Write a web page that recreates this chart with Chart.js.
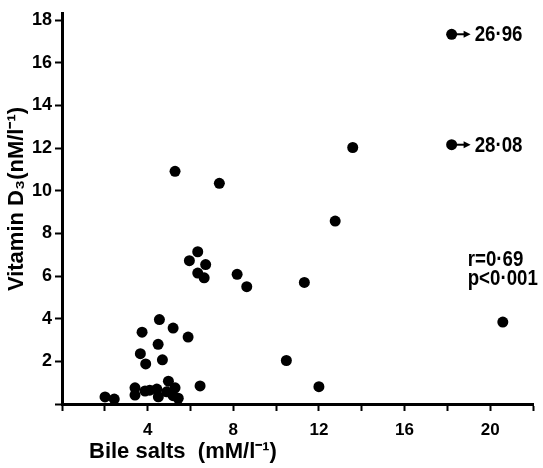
<!DOCTYPE html>
<html>
<head>
<meta charset="utf-8">
<script src="https://cdn.jsdelivr.net/npm/chart.js@4.4.1/dist/chart.umd.min.js"></script>
<style>
  html, body { margin: 0; padding: 0; background: #fff; }
  #wrap { width: 543px; height: 468px; }
</style>
</head>
<body>
<div id="wrap"><canvas id="grafico" width="543" height="468"></canvas></div>
<script>
// bile salts (mM/l-1) vs vitamin D3 (nM/l-1)
const bileSalts = [
  5.28, 7.35, 13.58, 12.76, 6.34, 5.95, 6.71, 6.34, 6.64, 8.18, 8.63, 11.32,
  4.55, 5.19, 5.89, 4.49, 3.74, 3.66, 3.91, 4.69, 10.48, 6.45, 12.0,
  2.01, 2.44, 3.41, 3.41, 3.88, 4.43, 4.5, 4.97, 4.89, 5.28, 5.43, 5.19, 4.1,
  20.59
];
const vitaminD3 = [
  10.91, 10.35, 12.03, 8.58, 7.14, 6.72, 6.54, 6.14, 5.92, 6.08, 5.5, 5.7,
  3.96, 3.56, 3.14, 2.8, 3.37, 2.36, 1.88, 2.07, 2.04, 0.85, 0.81,
  0.33, 0.23, 0.76, 0.42, 0.61, 0.7, 0.34, 1.07, 0.57, 0.76, 0.27, 0.39, 0.65,
  3.84
];
// off-scale points, drawn at the break of the x axis with their real value
const fueraEscalaX = [26.96, 28.08];
const fueraEscalaY = [17.34, 12.16];
const posicionCorte = 18.2;

const yTicks = [2, 4, 6, 8, 10, 12, 14, 16, 18];
const xTicks = [4, 8, 12, 16, 20];
const textoR = 'r=0·69';
const textoP = 'p<0·001';
const tituloX = 'Bile salts  (mM/l⁻¹)';
const tituloY = 'Vitamin D₃(nM/l⁻¹)';

const fmt = (v) => v.toFixed(2).replace('.', '·');

const puntos = bileSalts.map((x, i) => ({ x: x, y: vitaminD3[i] }));
const puntosCorte = fueraEscalaY.map((y, i) => ({ x: posicionCorte, y: y, real: fueraEscalaX[i] }));

const fuente = '"Liberation Sans", Arial, sans-serif';

// narrow text, the original lettering is condensed
function textoEstrecho(ctx, t, x, y, f) {
  ctx.save();
  ctx.translate(x, y);
  ctx.scale(f, 1);
  ctx.fillText(t, 0, 0);
  ctx.restore();
}

const textos = {
  id: 'textos',
  afterDraw(chart) {
    const ctx = chart.ctx;
    const sx = chart.scales.x;
    const sy = chart.scales.y;
    ctx.save();
    ctx.fillStyle = '#000';
    ctx.strokeStyle = '#000';

    // arrows + real values for the off-scale points
    ctx.font = 'bold 22px ' + fuente;
    ctx.textBaseline = 'middle';
    ctx.textAlign = 'left';
    puntosCorte.forEach(p => {
      const px = sx.getPixelForValue(p.x);
      const py = sy.getPixelForValue(p.y);
      ctx.lineWidth = 2;
      ctx.beginPath();
      ctx.moveTo(px + 4, py);
      ctx.lineTo(px + 14, py);
      ctx.stroke();
      ctx.beginPath();
      ctx.moveTo(px + 19, py);
      ctx.lineTo(px + 12, py - 3.5);
      ctx.lineTo(px + 12, py + 3.5);
      ctx.closePath();
      ctx.fill();
      textoEstrecho(ctx, fmt(p.real), px + 23, py + 1, 0.85);
    });

    // correlation
    textoEstrecho(ctx, textoR, sx.getPixelForValue(18.95), sy.getPixelForValue(6.75), 0.85);
    textoEstrecho(ctx, textoP, sx.getPixelForValue(18.95), sy.getPixelForValue(5.85), 0.85);

    // axis titles
    ctx.font = 'bold 22px ' + fuente;
    textoEstrecho(ctx, tituloX, 89, 452, 1);

    ctx.translate(17, 199);
    ctx.rotate(-Math.PI / 2);
    ctx.textAlign = 'center';
    ctx.font = 'bold 22px ' + fuente;
    ctx.fillText(tituloY, 0, 0);
    ctx.restore();
  }
};

new Chart(document.getElementById('grafico'), {
  type: 'scatter',
  data: {
    datasets: [
      {
        data: puntos,
        pointRadius: 5.5,
        pointHoverRadius: 5.5,
        backgroundColor: '#000',
        borderColor: '#000',
        borderWidth: 0
      },
      {
        data: puntosCorte,
        pointRadius: 5.5,
        pointHoverRadius: 5.5,
        backgroundColor: '#000',
        borderColor: '#000',
        borderWidth: 0
      }
    ]
  },
  options: {
    responsive: false,
    animation: false,
    layout: { padding: { top: 12, right: 10, left: 0, bottom: 0 } },
    plugins: {
      legend: { display: false },
      tooltip: { enabled: false }
    },
    scales: {
      x: {
        type: 'linear',
        min: 0,
        max: 22,
        afterFit: (s) => { s.height = 64; },
        border: { display: true, color: '#000', width: 3 },
        grid: { drawOnChartArea: false, drawTicks: true, tickLength: 7, tickWidth: 2, tickColor: '#000' },
        ticks: {
          stepSize: 2,
          includeBounds: false,
          autoSkip: false,
          maxRotation: 0,
          padding: 9,
          color: '#000',
          font: { family: fuente, size: 17, weight: 'bold' },
          callback: (v) => xTicks.includes(v) ? String(v) : ''
        }
      },
      y: {
        type: 'linear',
        min: 0,
        max: 18.3,
        afterFit: (s) => { s.width = 62; },
        border: { display: true, color: '#000', width: 3 },
        grid: { drawOnChartArea: false, drawTicks: true, tickLength: 7, tickWidth: 2, tickColor: '#000' },
        ticks: {
          stepSize: 2,
          includeBounds: false,
          autoSkip: false,
          padding: 3,
          color: '#000',
          font: { family: fuente, size: 18, weight: 'bold' },
          callback: (v) => yTicks.includes(v) ? String(v) : ''
        }
      }
    }
  },
  plugins: [textos]
});
</script>
</body>
</html>
